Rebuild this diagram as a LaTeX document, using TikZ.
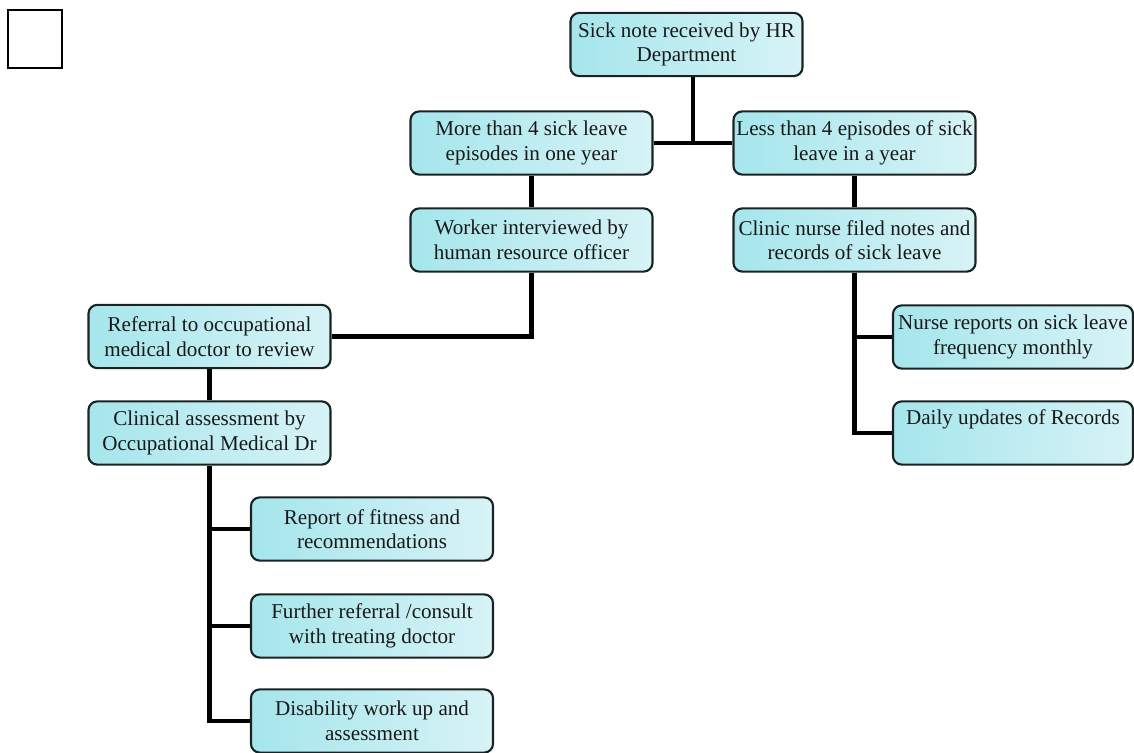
\documentclass[tikz,border=0pt]{standalone}
\usepackage{fontspec}
\setmainfont{Liberation Serif}
\usetikzlibrary{calc}

\definecolor{boxleft}{RGB}{165,230,236}
\definecolor{boxright}{RGB}{215,243,246}
\definecolor{boxline}{RGB}{25,35,35}

\tikzset{
  stepbox/.style={draw=boxline, line width=1.5pt, rounded corners=0.22cm,
    left color=boxleft, right color=boxright, text=black!90,
    minimum width=6.05cm, minimum height=1.58cm, align=center,
    inner sep=2pt, font=\fontsize{15}{17.5}\selectfont},
  link/.style={line width=3.5pt, draw=black}
}

\begin{document}
\begin{tikzpicture}[x=0.025cm,y=-0.025cm]
\useasboundingbox (0,0) rectangle (1134,753);
\draw [line width=1.5pt] (8,10) rectangle (62,68);
\node[stepbox, minimum width=5.8cm] (sick) at (686.5,44.5) {Sick note received by HR\\Department};
\node[stepbox] (more) at (531.5,143) {More than 4 sick leave\\episodes in one year};
\node[stepbox] (less) at (854.5,143) {Less than 4 episodes of sick\\leave in a year};
\node[stepbox] (worker) at (531.5,240) {Worker interviewed by\\human resource officer};
\node[stepbox] (clinic) at (854.5,240) {Clinic nurse filed notes and\\records of sick leave};
\node[stepbox] (referral) at (209.5,336.5) {Referral to occupational\\medical doctor to review};
\node[stepbox] (assess) at (209.5,433) {Clinical assessment by\\Occupational Medical Dr};
\node[stepbox, minimum width=6cm] (nurse) at (1013,337) {Nurse reports on sick leave\\frequency monthly};
\node[stepbox, minimum width=6cm] (daily) at (1013,433) {Daily updates of Records\\\strut};
\node[stepbox] (fitness) at (372,529) {Report of fitness and\\recommendations};
\node[stepbox] (further) at (372,626) {Further referral /consult\\with treating doctor};
\node[stepbox] (disab) at (372,721) {Disability work up and\\assessment};
\coordinate (fork) at ($(more.east)!0.5!(less.west)$);
\draw [link] (more.east) -- (less.west);
\draw [link] (fork) -- (fork |- sick.south);
\draw [link] (more) -- (worker);
\draw [link] (less) -- (clinic);
\draw [link] (worker.south) |- (referral.east);
\draw [link] (referral) -- (assess);
\foreach \n in {nurse,daily}
  \draw [link] (clinic.south) |- (\n.west);
\foreach \n in {fitness,further,disab}
  \draw [link] (assess.south) |- (\n.west);
\end{tikzpicture}
\end{document}
